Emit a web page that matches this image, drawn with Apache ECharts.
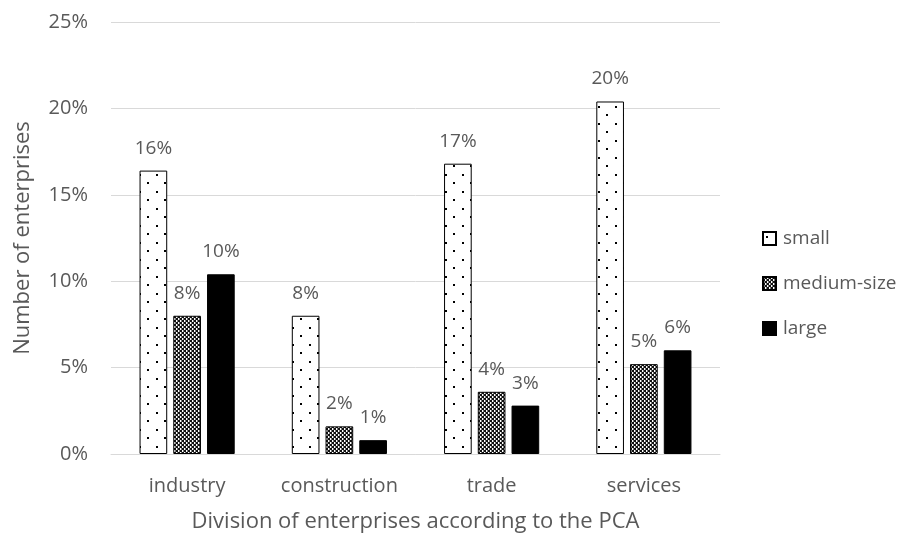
<!DOCTYPE html>
<html>
<head>
<meta charset="utf-8">
<script src="https://cdn.jsdelivr.net/npm/echarts@6/dist/echarts.min.js"></script>
<style>
  html, body { margin: 0; padding: 0; background: #fff; }
  #chart { width: 909px; height: 538px; }
</style>
</head>
<body>
<div id="chart"></div>
<script>
// Share of enterprises by division (PCA) and size class, in percent
const categories = ['industry', 'construction', 'trade', 'services'];
const seriesNames = ['small', 'medium-size', 'large'];
const smallValues = [16.4, 8.0, 16.8, 20.4];
const mediumValues = [8.0, 1.6, 3.6, 5.2];
const largeValues = [10.4, 0.8, 2.8, 6.0];
const yTicks = [0, 5, 10, 15, 20, 25];

const FONT = '"Open Sans", "Noto Sans", sans-serif';
const TEXT = '#595959';

// Dotted fill: white with sparse staggered black dots
function dotPattern() {
  const c = document.createElement('canvas');
  c.width = 17; c.height = 17;
  const g = c.getContext('2d');
  g.fillStyle = '#fff';
  g.fillRect(0, 0, 17, 17);
  g.fillStyle = '#000';
  g.fillRect(3, 4, 2, 2);
  g.fillRect(11, 12, 2, 2);
  return { image: c, repeat: 'repeat' };
}

// Fine checker fill
function checkerPattern() {
  const c = document.createElement('canvas');
  c.width = 4; c.height = 4;
  const g = c.getContext('2d');
  g.fillStyle = '#111';
  g.fillRect(0, 0, 4, 4);
  g.fillStyle = '#fff';
  g.fillRect(0, 0, 2, 2);
  g.fillRect(2, 2, 2, 2);
  g.fillStyle = '#777';
  g.fillRect(1, 0, 1, 2);
  g.fillRect(3, 2, 1, 2);
  return { image: c, repeat: 'repeat' };
}

const fills = [dotPattern(), checkerPattern(), '#000'];
const valueSets = [smallValues, mediumValues, largeValues];

const chart = echarts.init(document.getElementById('chart'), null, { renderer: 'canvas' });

chart.setOption({
  animation: false,
  textStyle: { fontFamily: FONT },
  grid: { left: 111, right: 189, top: 22, bottom: 84, containLabel: false },
  legend: {
    orient: 'vertical',
    left: 762,
    top: 229,
    padding: 0,
    itemWidth: 13,
    itemHeight: 13,
    itemGap: 26,
    icon: 'rect',
    textStyle: { color: TEXT, fontSize: 19, fontFamily: FONT, padding: [0, 0, 0, 2] },
    data: seriesNames
  },
  xAxis: {
    type: 'category',
    data: categories,
    name: 'Division of enterprises according to the PCA',
    nameLocation: 'middle',
    nameGap: 57,
    nameTextStyle: { color: TEXT, fontSize: 22, fontFamily: FONT },
    axisLine: { lineStyle: { color: '#d9d9d9', width: 1 } },
    axisTick: { show: false },
    axisLabel: { color: TEXT, fontSize: 20, margin: 22, fontFamily: FONT }
  },
  yAxis: {
    type: 'value',
    min: yTicks[0],
    max: yTicks[yTicks.length - 1],
    interval: 5,
    name: 'Number of enterprises',
    nameLocation: 'middle',
    nameGap: 77,
    nameTextStyle: { color: TEXT, fontSize: 22, fontFamily: FONT },
    axisLine: { show: false },
    axisTick: { show: false },
    splitLine: { lineStyle: { color: '#d9d9d9', width: 1 } },
    axisLabel: { color: TEXT, fontSize: 20, margin: 23, fontFamily: FONT, formatter: '{value}%' }
  },
  series: seriesNames.map((name, i) => ({
    name,
    type: 'bar',
    data: valueSets[i],
    barCategoryGap: '37.5%',
    barGap: '22%',
    itemStyle: {
      color: fills[i],
      borderColor: '#000',
      borderWidth: 1
    },
    label: {
      show: true,
      position: 'top',
      distance: 13,
      color: TEXT,
      fontSize: 19,
      fontFamily: FONT,
      formatter: p => Math.round(p.value) + '%'
    }
  }))
});
</script>
</body>
</html>
